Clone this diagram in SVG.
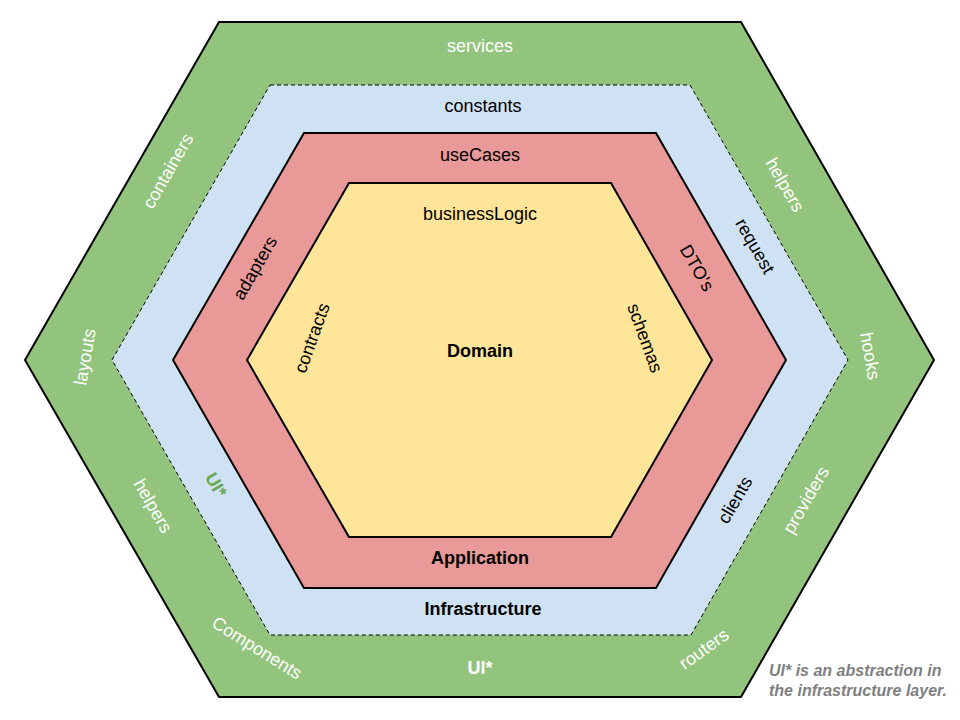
<svg xmlns="http://www.w3.org/2000/svg" width="960" height="720" viewBox="0 0 960 720">
  <style>
    .layer { stroke: #000; stroke-width: 2; stroke-linejoin: miter; }
    .ui { fill: #93c47d; }
    .infra { fill: #cfe2f3; stroke-width: 1; stroke-dasharray: 4 3; }
    .app { fill: #ea9999; }
    .dom { fill: #ffe599; }
    text { font-family: "Liberation Sans", Arial, sans-serif; font-size: 18px; text-anchor: middle; dominant-baseline: central; }
    .w { fill: #ffffff; }
    .k { fill: #000000; }
    .b { font-weight: bold; }
    .g { fill: #6aa84f; font-weight: bold; }
    .note { fill: #808080; font-weight: bold; font-style: italic; font-size: 16px; text-anchor: start; }
  </style>

  <!-- outer UI ring -->
  <g id="ui">
    <polygon class="layer ui" points="219,22 741,22 934,360 741,697 219,697 25,360"/>
    <text class="w" x="480" y="46">services</text>
    <text class="w" transform="translate(168,171) rotate(-60)">containers</text>
    <text class="w" transform="translate(85,357) rotate(-80)">layouts</text>
    <text class="w" transform="translate(153,506) rotate(60)">helpers</text>
    <text class="w" transform="translate(257,648) rotate(32)">Components</text>
    <text class="w b" x="480" y="668">UI*</text>
    <text class="w" transform="translate(704,649) rotate(-36)">routers</text>
    <text class="w" transform="translate(806,500) rotate(-60)">providers</text>
    <text class="w" transform="translate(870,356) rotate(80)">hooks</text>
    <text class="w" transform="translate(785,185) rotate(60)">helpers</text>
  </g>

  <!-- infrastructure ring -->
  <g id="infrastructure">
    <polygon class="layer infra" points="270,85 690,85 848,360 691,635 270,635 112,360"/>
    <text class="k" x="483" y="106">constants</text>
    <text class="k" transform="translate(755,246) rotate(60)">request</text>
    <text class="k" transform="translate(735,500) rotate(-60)">clients</text>
    <text class="k b" x="483" y="609">Infrastructure</text>
    <text class="g" transform="translate(216,485) rotate(60)">UI*</text>
  </g>

  <!-- application ring -->
  <g id="application">
    <polygon class="layer app" points="304,133 656,133 786,360 656,588 304,588 173,360"/>
    <text class="k" x="480" y="155">useCases</text>
    <text class="k" transform="translate(255,268) rotate(-60)">adapters</text>
    <text class="k" transform="translate(697,268) rotate(60)">DTO's</text>
    <text class="k b" x="480" y="558">Application</text>
  </g>

  <!-- domain core -->
  <g id="domain">
    <polygon class="layer dom" points="349,183 611,183 712,360 611,537 349,537 247,360"/>
    <text class="k" x="480" y="214">businessLogic</text>
    <text class="k" transform="translate(312,338) rotate(-70)">contracts</text>
    <text class="k" transform="translate(645,338) rotate(70)">schemas</text>
    <text class="k b" x="480" y="351">Domain</text>
  </g>

  <g id="connectors"/>

  <g id="note">
    <text class="note" x="769" y="670">UI* is an abstraction in</text>
    <text class="note" x="769" y="690">the infrastructure layer.</text>
  </g>
</svg>
